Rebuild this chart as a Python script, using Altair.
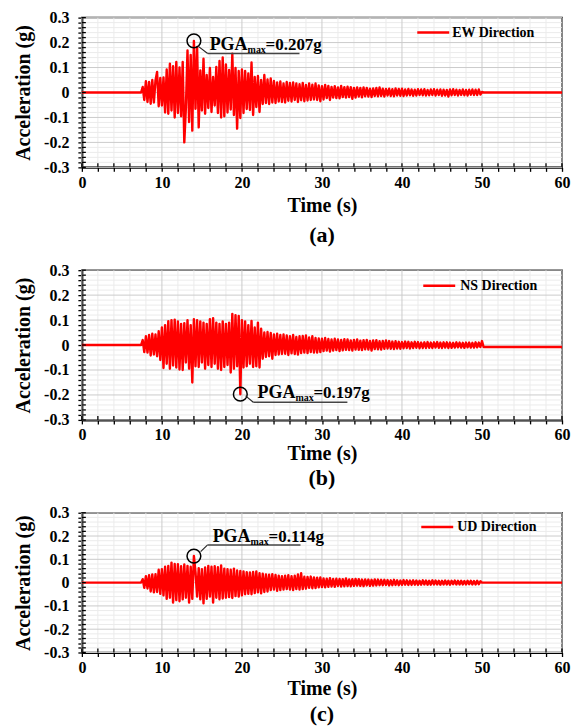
import altair as alt
import pandas as pd

# ---------------- data (accelerations in thousandths of g) ----------------
ONSET = 7.4      # s, first sample of the strong-motion record
DT = 0.2         # s, spacing of the read-off peaks
T_END = 60.0

EW = [0, 22, -30, 45, -38, 42, -45, 50, -40, 48,
      82, -55, 58, -52, 60, -80, 92, -85, 115, -72,
      105, -100, 122, -82, 100, -95, 122, -200, -60, 168,
      -118, 150, -153, 207, -65, 182, -140, 88, -72, 135,
      -85, 70, -62, 98, -78, 62, -52, 102, -82, 126,
      -100, 140, -95, 112, -80, 90, -68, 155, -90, 98,
      -145, 86, -102, 92, -82, 86, -66, 76, -70, 120,
      -90, 62, -58, 66, -78, 50, -46, 70, -42, 52,
      -46, 56, -40, 46, -42, 40, -36, 44, -38, 36,
      -40, 42, -33, 38, -36, 40, -30, 36, -38, 33,
      -31, 38, -35, 30, -32, 36, -30, 31, -28, 36,
      -30, 28, -35, 25, -28, 30, -22, 26, -30, 22,
      -20, 25, -22, 20, -23, 26, -18, 21, -20, 23,
      -18, 21, -25, 18, -20, 20, -16, 18, -19, 20,
      -15, 18, -16, 15, -18, 16, -14, 18, -15, 20,
      -14, 15, -16, 14, -12, 15, -14, 13, -15, 16,
      -12, 14, -13, 15, -14, 12, -12, 14, -11, 12,
      -13, 11, -12, 13, -10, 12, -11, 13, -12, 10,
      -11, 12, -10, 13, -12, 11, -10, 12, -13, 11,
      -12, 10, -16, 12, -11, 13, -10, 11, -12, 10,
      -10, 12, -11, 10, -12, 11, -9, 12, -10, 11,
      -10, 12, -8, 2]

NS = [0, 20, -28, 35, -30, 40, -42, 45, -38, 42,
      -45, 55, -60, 70, -92, 80, -75, 96, -95, 100,
      -82, 102, -90, 95, -98, 85, -100, 88, -70, 100,
      -95, 80, -150, 104, -85, 100, -88, 95, -70, 90,
      -95, 85, -80, 104, -88, 108, -75, 90, -95, 85,
      -100, 95, -88, 85, -80, 90, -110, 125, -95, 120,
      -85, 117, -197, 100, -90, 95, -85, 80, -75, 97,
      -88, 70, -85, 90, -90, 65, -55, 50, -48, 52,
      -45, 48, -55, 42, -40, 45, -38, 40, -36, 42,
      -35, 38, -40, 35, -33, 40, -36, 32, -38, 35,
      -32, 36, -30, 38, -32, 30, -28, 35, -30, 28,
      -30, 26, -28, 25, -24, 28, -22, 24, -26, 22,
      -22, 25, -20, 22, -24, 20, -21, 23, -19, 22,
      -20, 18, -22, 20, -18, 22, -19, 17, -20, 19,
      -17, 20, -18, 16, -22, 18, -16, 19, -17, 15,
      -18, 16, -15, 18, -14, 16, -15, 14, -16, 15,
      -14, 13, -15, 12, -13, 14, -12, 13, -14, 11,
      -12, 13, -11, 12, -13, 10, -12, 11, -12, 12,
      -11, 10, -12, 11, -10, 12, -11, 10, -12, 11,
      -10, 11, -12, 10, -11, 9, -10, 11, -9, 10,
      -10, 9, -11, 10, -9, 10, -10, 9, -10, 11,
      -9, 10, -8, 16]

UD = [0, 15, -22, 28, -25, 32, -38, 35, -42, 36,
      -40, 55, -48, 58, -55, 68, -70, 72, -65, 86,
      -86, 80, -75, 79, -80, 70, -72, 78, -65, 72,
      -86, 68, -70, 114, 45, -60, 62, -72, 58, -89,
      65, -70, 72, -60, 68, -86, 70, -65, 66, -72,
      74, -68, 60, -65, 58, -62, 55, -66, 60, -58,
      52, -60, 50, -55, 48, -50, 45, -48, 44, -50,
      46, -45, 48, -42, 40, -46, 38, -40, 35, -38,
      34, -32, 36, -30, 33, -35, 30, -32, 28, -30,
      30, -28, 32, -30, 28, -32, 30, -28, 35, -30,
      40, -28, 25, -26, 24, -22, 26, -24, 22, -23,
      21, -20, 22, -19, 18, -20, 17, -18, 19, -17,
      16, -18, 17, -15, 16, -17, 15, -16, 18, -15,
      14, -16, 15, -14, 16, -13, 15, -14, 13, -15,
      14, -12, 13, -14, 12, -13, 14, -12, 13, -11,
      12, -11, 12, -10, 11, -12, 10, -11, 12, -10,
      10, -11, 9, -10, 11, -9, 10, -10, 9, -10,
      10, -9, 9, -10, 8, -9, 10, -8, 9, -9,
      8, -9, 10, -8, 9, -8, 8, -9, 8, -8,
      9, -8, 8, -9, 8, -7, 9, -8, 8, -8,
      8, -8, 7, -8, 8, -7, 8, -8, 7, -8,
      8, -7, 6, 0]

RECORDS = [EW, NS, UD]
AFTER = [0.0, -0.008, 0.0]            # g, level of the trace after the record ends
LEGEND = ["EW Direction", "NS Direction", "UD Direction"]
LETTERS = ["(a)", "(b)", "(c)"]
X_TICKS = list(range(0, 61, 2))
X_MAJOR = list(range(0, 61, 10))
X_MINOR = [v for v in X_TICKS if v % 10]
Y_TICKS = [round(-0.3 + 0.02 * k, 2) for k in range(31)]
Y_MAJOR = [round(-0.3 + 0.1 * k, 1) for k in range(7)]
Y_MINOR = [v for v in Y_TICKS if round(v * 100) % 10]

# ---------------- style / layout ----------------
FONT = "Liberation Serif"
RED = "#ff0000"
GRID_MAJOR = "#cbcbcb"
GRID_MINOR = "#ebebeb"
W = 481
LAYOUT = [
    dict(H=150, tp=5, lo=10, leg=(336, 368, 15, 371),
         lead=(117, 29, 126, 36), under=(126, 218, 36),
         pga=(128, 32), sub=(166, 35.5), val=(184, 32)),
    dict(H=150, tp=1, lo=4, leg=(342, 374, 15.7, 379),
         lead=(164, 126, 171.7, 132.3), under=(171.7, 266, 132.3),
         pga=(176, 128.3), sub=(214, 131.5), val=(232, 128.3)),
    dict(H=140, tp=3, lo=6, leg=(340, 372, 14.4, 376),
         lead=(119, 39, 125.7, 32.4), under=(125.7, 219, 32.4),
         pga=(131, 29.4), sub=(169, 32), val=(187, 29.4)),
]

xs = alt.Scale(domain=[0, 60], nice=False, zero=False)
ys = alt.Scale(domain=[-0.3, 0.3], nice=False, zero=False)

Y_LABEL = ("abs(round(datum.value*100)) % 10 == 0 ? "
           "(abs(datum.value) < 1e-9 ? '0' : (datum.value < 0 ? '-' : '') + format(abs(datum.value), '.1f')) : ''")


def series(vals, after):
    n = len(vals)
    t = [0.0] + [round(ONSET + DT * i, 3) for i in range(n)] + [round(ONSET + DT * n, 3), T_END]
    a = [0.0] + [v / 1000 for v in vals] + [after, after]
    return pd.DataFrame({"t": t, "a": a})


def text_layer(txt, x, y, size, align="left", baseline="alphabetic"):
    return alt.Chart(pd.DataFrame({"s": [txt]})).mark_text(
        align=align, baseline=baseline, font=FONT, fontSize=size,
        fontWeight="bold", color="black"
    ).encode(x=alt.value(x), y=alt.value(y), text="s:N")


def panel(k):
    L = LAYOUT[k]
    H = L["H"]
    vals = RECORDS[k]
    df = series(vals, AFTER[k])
    ipk = max(range(len(vals)), key=lambda i: abs(vals[i]))
    peak = pd.DataFrame({"t": [round(ONSET + DT * ipk, 3)], "a": [vals[ipk] / 1000]})
    pga_txt = "=" + format(abs(vals[ipk]) / 1000, ".3f") + "g"

    xaxis = alt.Axis(
        values=X_TICKS, labelExpr="datum.value % 10 == 0 ? datum.label : ''",
        grid=False, tickSize=4, tickColor="black", tickWidth=1.3,
        domainColor="black", domainWidth=2,
        labelFont=FONT, labelFontSize=16, labelFontWeight="bold", labelColor="black",
        labelPadding=3, labelFlush=False, labelOverlap=False,
        title="Time (s)", titleFont=FONT, titleFontSize=20, titleFontWeight="bold",
        titleColor="black", titlePadding=L["tp"])
    yaxis = alt.Axis(
        values=Y_TICKS, labelExpr=Y_LABEL, grid=False,
        tickSize=4, tickColor="black", tickWidth=1.3,
        domainColor="black", domainWidth=2,
        labelFont=FONT, labelFontSize=16, labelFontWeight="bold", labelColor="black",
        labelPadding=9, labelFlush=False, labelOverlap=False,
        title="Acceleration (g)", titleFont=FONT, titleFontSize=20, titleFontWeight="bold",
        titleColor="black", titlePadding=10)

    X = lambda: alt.X("t:Q", scale=xs, axis=xaxis)
    Y = lambda: alt.Y("a:Q", scale=ys, axis=yaxis)

    def vgrid(vals_, color):
        return alt.Chart(pd.DataFrame({"t": vals_})).mark_rule(color=color, strokeWidth=1).encode(
            x=X(), y=alt.value(0), y2=alt.value(H))

    def hgrid(vals_, color):
        return alt.Chart(pd.DataFrame({"a": vals_})).mark_rule(color=color, strokeWidth=1).encode(
            y=Y(), x=alt.value(0), x2=alt.value(W))

    line = alt.Chart(df).mark_line(color=RED, strokeWidth=2.4, strokeJoin="round").encode(x=X(), y=Y())

    xt = alt.Chart(pd.DataFrame({"t": X_TICKS})).mark_rule(color="black", strokeWidth=1.3).encode(
        x=X(), y=alt.value(H), y2=alt.value(H - 4))
    yt = alt.Chart(pd.DataFrame({"a": Y_TICKS})).mark_rule(color="black", strokeWidth=1.3).encode(
        y=Y(), x=alt.value(0), x2=alt.value(4))

    lx0, lx1, ly, tx = L["leg"]
    leg_line = alt.Chart(pd.DataFrame({"s": [LEGEND[k]]})).mark_rule(color=RED, strokeWidth=2.5).encode(
        x=alt.value(lx0), x2=alt.value(lx1), y=alt.value(ly))
    leg_text = text_layer(LEGEND[k], tx, ly, 14, baseline="middle")

    circ = alt.Chart(peak).mark_point(shape="circle", size=190, filled=False, color="black",
                                      strokeWidth=1.5, opacity=1).encode(x=X(), y=Y())
    x0, y0, x1, y1 = L["lead"]
    lead = alt.Chart(peak).mark_rule(color="#222222", strokeWidth=1.1).encode(
        x=alt.value(x0), y=alt.value(y0), x2=alt.value(x1), y2=alt.value(y1))
    ux0, ux1, uy = L["under"]
    under = alt.Chart(peak).mark_rule(color="#444444", strokeWidth=1.5).encode(
        x=alt.value(ux0), x2=alt.value(ux1), y=alt.value(uy))
    t1 = text_layer("PGA", L["pga"][0], L["pga"][1], 18)
    t2 = text_layer("max", L["sub"][0], L["sub"][1], 10)
    t3 = text_layer(pga_txt, L["val"][0], L["val"][1], 17)

    return alt.layer(
        vgrid(X_MINOR, GRID_MINOR), hgrid(Y_MINOR, GRID_MINOR),
        vgrid(X_MAJOR, GRID_MAJOR), hgrid(Y_MAJOR, GRID_MAJOR),
        line, xt, yt, leg_line, leg_text, circ, lead, under, t1, t2, t3
    ).properties(
        width=W, height=H,
        title=alt.TitleParams(LETTERS[k], orient="bottom", anchor="middle", frame="group",
                              font=FONT, fontSize=22, fontWeight="bold", color="black",
                              offset=L["lo"]))


chart = alt.vconcat(panel(0), panel(1), panel(2), spacing=14).configure_view(
    stroke="black", strokeWidth=1.5
).properties(
    padding={"left": 4, "top": 0, "right": 0, "bottom": 0}, background="white"
)

chart.save("out.html", embed_options={"renderer": "svg", "actions": False})
